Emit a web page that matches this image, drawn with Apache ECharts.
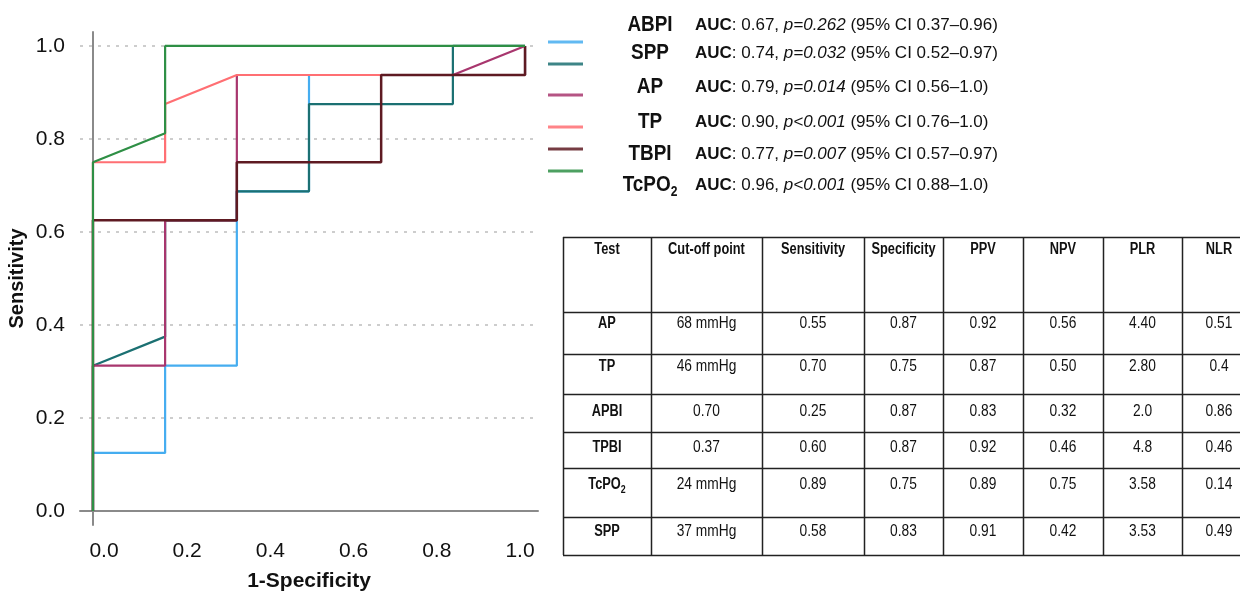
<!DOCTYPE html>
<html>
<head>
<meta charset="utf-8">
<script src="https://cdn.jsdelivr.net/npm/echarts@6/dist/echarts.min.js"></script>
<style>
html, body { margin: 0; padding: 0; background: #fff; }
#chart { width: 1240px; height: 592px; }
</style>
</head>
<body>
<div id="chart"></div>
<script>
// ROC points: [1 - specificity, sensitivity]
const rocABPI = [[0,0],[0,0.125],[0.167,0.125],[0.167,0.3125],[0.333,0.3125],[0.333,0.6875],[0.5,0.6875],[0.5,0.9375],[1,0.9375],[1,1]];
const rocSPP = [[0,0],[0,0.3125],[0.167,0.375],[0.167,0.625],[0.333,0.625],[0.333,0.6875],[0.5,0.6875],[0.5,0.875],[0.833,0.875],[0.833,1],[1,1]];
const rocAP = [[0,0],[0,0.3125],[0.167,0.3125],[0.167,0.625],[0.333,0.625],[0.333,0.9375],[0.833,0.9375],[1,1]];
const rocTP = [[0,0],[0,0.75],[0.167,0.75],[0.167,0.875],[0.333,0.9375],[1,0.9375],[1,1]];
const rocTBPI = [[0,0],[0,0.625],[0.333,0.625],[0.333,0.75],[0.667,0.75],[0.667,0.9375],[1,0.9375],[1,1]];
const rocTcPO2 = [[0,0],[0,0.75],[0.167,0.8125],[0.167,1],[1,1]];

const seriesNames = ['ABPI', 'SPP', 'AP', 'TP', 'TBPI', 'TcPO2'];
const aucVals = ['0.67', '0.74', '0.79', '0.90', '0.77', '0.96'];
const pVals = ['p=0.262', 'p=0.032', 'p=0.014', 'p<0.001', 'p=0.007', 'p<0.001'];
const ciVals = ['0.37\u20130.96', '0.52\u20130.97', '0.56\u20131.0', '0.76\u20131.0', '0.57\u20130.97', '0.88\u20131.0'];

const tickVals = [0, 0.2, 0.4, 0.6, 0.8, 1.0];

// table
const tableHeader = ['Test', 'Cut-off point', 'Sensitivity', 'Specificity', 'PPV', 'NPV', 'PLR', 'NLR'];
const tableTests = ['AP', 'TP', 'APBI', 'TPBI', 'TcPO2', 'SPP'];
const cutOffs = ['68 mmHg', '46 mmHg', '0.70', '0.37', '24 mmHg', '37 mmHg'];
const sensVals = ['0.55', '0.70', '0.25', '0.60', '0.89', '0.58'];
const specVals = ['0.87', '0.75', '0.87', '0.87', '0.75', '0.83'];
const ppvVals = ['0.92', '0.87', '0.83', '0.92', '0.89', '0.91'];
const npvVals = ['0.56', '0.50', '0.32', '0.46', '0.75', '0.42'];
const plrVals = ['4.40', '2.80', '2.0', '4.8', '3.58', '3.53'];
const nlrVals = ['0.51', '0.4', '0.86', '0.46', '0.14', '0.49'];

// styles / layout
const colors = ['#45adf0', '#1b7072', '#a8366e', '#ff6f73', '#5e1a22', '#2e8f45'];
const legendLineY = [42, 64, 95, 127, 149, 171];
const legendTextY = [25, 53, 87, 122, 154, 185];
const colEdges = [563, 651, 762, 864, 943, 1023, 1103, 1182, 1256];
const rowEdges = [237, 312, 354, 394, 432, 468, 517, 555];
const headerTextY = 250;
const rowTextY = [324, 367, 412, 448, 485, 532];

const FONT = '"Liberation Sans", Arial, sans-serif';
const rocData = [rocABPI, rocSPP, rocAP, rocTP, rocTBPI, rocTcPO2];

function nameRich(name) {
  // TcPO2 gets a subscript 2
  if (name === 'TcPO2') return '{n|TcPO}{s|2}';
  return '{n|' + name + '}';
}

const graphic = [];

// legend samples + AUC text
seriesNames.forEach((name, i) => {
  graphic.push({
    type: 'line',
    shape: { x1: 548, y1: legendLineY[i], x2: 583, y2: legendLineY[i] },
    style: { stroke: colors[i], lineWidth: 3, opacity: 0.85 }
  });
  graphic.push({
    type: 'text', x: 650, y: legendTextY[i], scaleX: 0.86,
    style: {
      text: nameRich(name), align: 'center', verticalAlign: 'middle',
      rich: {
        n: { fontFamily: FONT, fontSize: 22, fontWeight: 'bold', fill: '#111' },
        s: { fontFamily: FONT, fontSize: 14, fontWeight: 'bold', fill: '#111', padding: [14, 0, 0, 0] }
      }
    }
  });
  graphic.push({
    type: 'text', x: 695, y: legendTextY[i],
    style: {
      text: '{b|AUC}: ' + aucVals[i] + ', {i|' + pVals[i] + '} (95% CI ' + ciVals[i] + ')',
      align: 'left', verticalAlign: 'middle',
      font: '17px ' + FONT, fill: '#111',
      rich: {
        b: { fontFamily: FONT, fontSize: 17, fontWeight: 'bold', fill: '#111' },
        i: { fontFamily: FONT, fontSize: 17, fontStyle: 'italic', fill: '#111' }
      }
    }
  });
});

// table grid
rowEdges.forEach(y => {
  graphic.push({
    type: 'line',
    shape: { x1: colEdges[0], y1: y + 0.5, x2: colEdges[colEdges.length - 1], y2: y + 0.5 },
    style: { stroke: '#222', lineWidth: 1.5 }
  });
});
colEdges.forEach(x => {
  graphic.push({
    type: 'line',
    shape: { x1: x + 0.5, y1: rowEdges[0], x2: x + 0.5, y2: rowEdges[rowEdges.length - 1] },
    style: { stroke: '#222', lineWidth: 1.5 }
  });
});

function cellText(txt, cx, cy, bold) {
  const rich = {
    n: { fontFamily: FONT, fontSize: 16, fontWeight: bold ? 'bold' : 'normal', fill: '#111' },
    s: { fontFamily: FONT, fontSize: 11, fontWeight: bold ? 'bold' : 'normal', fill: '#111', padding: [10, 0, 0, 0] }
  };
  graphic.push({
    type: 'text', x: cx, y: cy, scaleX: bold ? 0.8 : 0.86,
    style: { text: nameRich(txt), align: 'center', verticalAlign: 'middle', rich: rich }
  });
}

tableHeader.forEach((h, c) => {
  cellText(h, (colEdges[c] + colEdges[c + 1]) / 2, headerTextY, true);
});
const tableCols = [tableTests, cutOffs, sensVals, specVals, ppvVals, npvVals, plrVals, nlrVals];
tableCols.forEach((col, c) => {
  col.forEach((v, r) => {
    cellText(v, (colEdges[c] + colEdges[c + 1]) / 2, rowTextY[r], c === 0);
  });
});

const chart = echarts.init(document.getElementById('chart'));
chart.setOption({
  backgroundColor: '#fff',
  animation: false,
  grid: { left: 80, right: 702, top: 32, bottom: 67, outerBoundsMode: 'none', containLabel: false },
  xAxis: [{
    type: 'value', min: -0.03, max: 1.03,
    name: '1-Specificity', nameLocation: 'middle', nameGap: 46,
    nameTextStyle: { fontFamily: FONT, fontSize: 21, fontWeight: 'bold', color: '#111' },
    axisLine: { show: true, lineStyle: { color: '#8a8a8a', width: 2 } },
    axisTick: { show: false },
    axisLabel: { show: false },
    splitLine: { show: false }
  }, {
    // label axis (labels sit slightly inset from the data positions in the original)
    type: 'value', min: -0.0577, max: 1.0433, position: 'bottom',
    axisLine: { show: false },
    axisTick: { show: false, customValues: tickVals },
    axisLabel: {
      customValues: tickVals, margin: 16,
      fontFamily: FONT, fontSize: 21, color: '#111',
      formatter: v => v.toFixed(1)
    },
    splitLine: { show: false }
  }],
  yAxis: {
    type: 'value', min: -0.03, max: 1.03,
    name: 'Sensitivity', nameLocation: 'middle', nameGap: 53,
    nameTextStyle: { fontFamily: FONT, fontSize: 20, fontWeight: 'bold', color: '#111' },
    axisLine: { show: true, lineStyle: { color: '#8a8a8a', width: 2 } },
    axisTick: { show: false, customValues: tickVals },
    axisLabel: {
      customValues: tickVals, margin: 15,
      fontFamily: FONT, fontSize: 21, color: '#111',
      formatter: v => v.toFixed(1)
    },
    splitLine: { show: true, lineStyle: { color: '#bdbdbd', width: 1.5, type: [3, 6] } }
  },
  series: seriesNames.map((name, i) => ({
    name: name,
    type: 'line',
    data: rocData[i],
    showSymbol: false,
    symbol: 'none',
    lineStyle: { color: colors[i], width: name === 'TBPI' ? 2.5 : 2.2 },
    itemStyle: { color: colors[i] },
    z: 2 + i
  })),
  graphic: graphic
});
</script>
</body>
</html>
